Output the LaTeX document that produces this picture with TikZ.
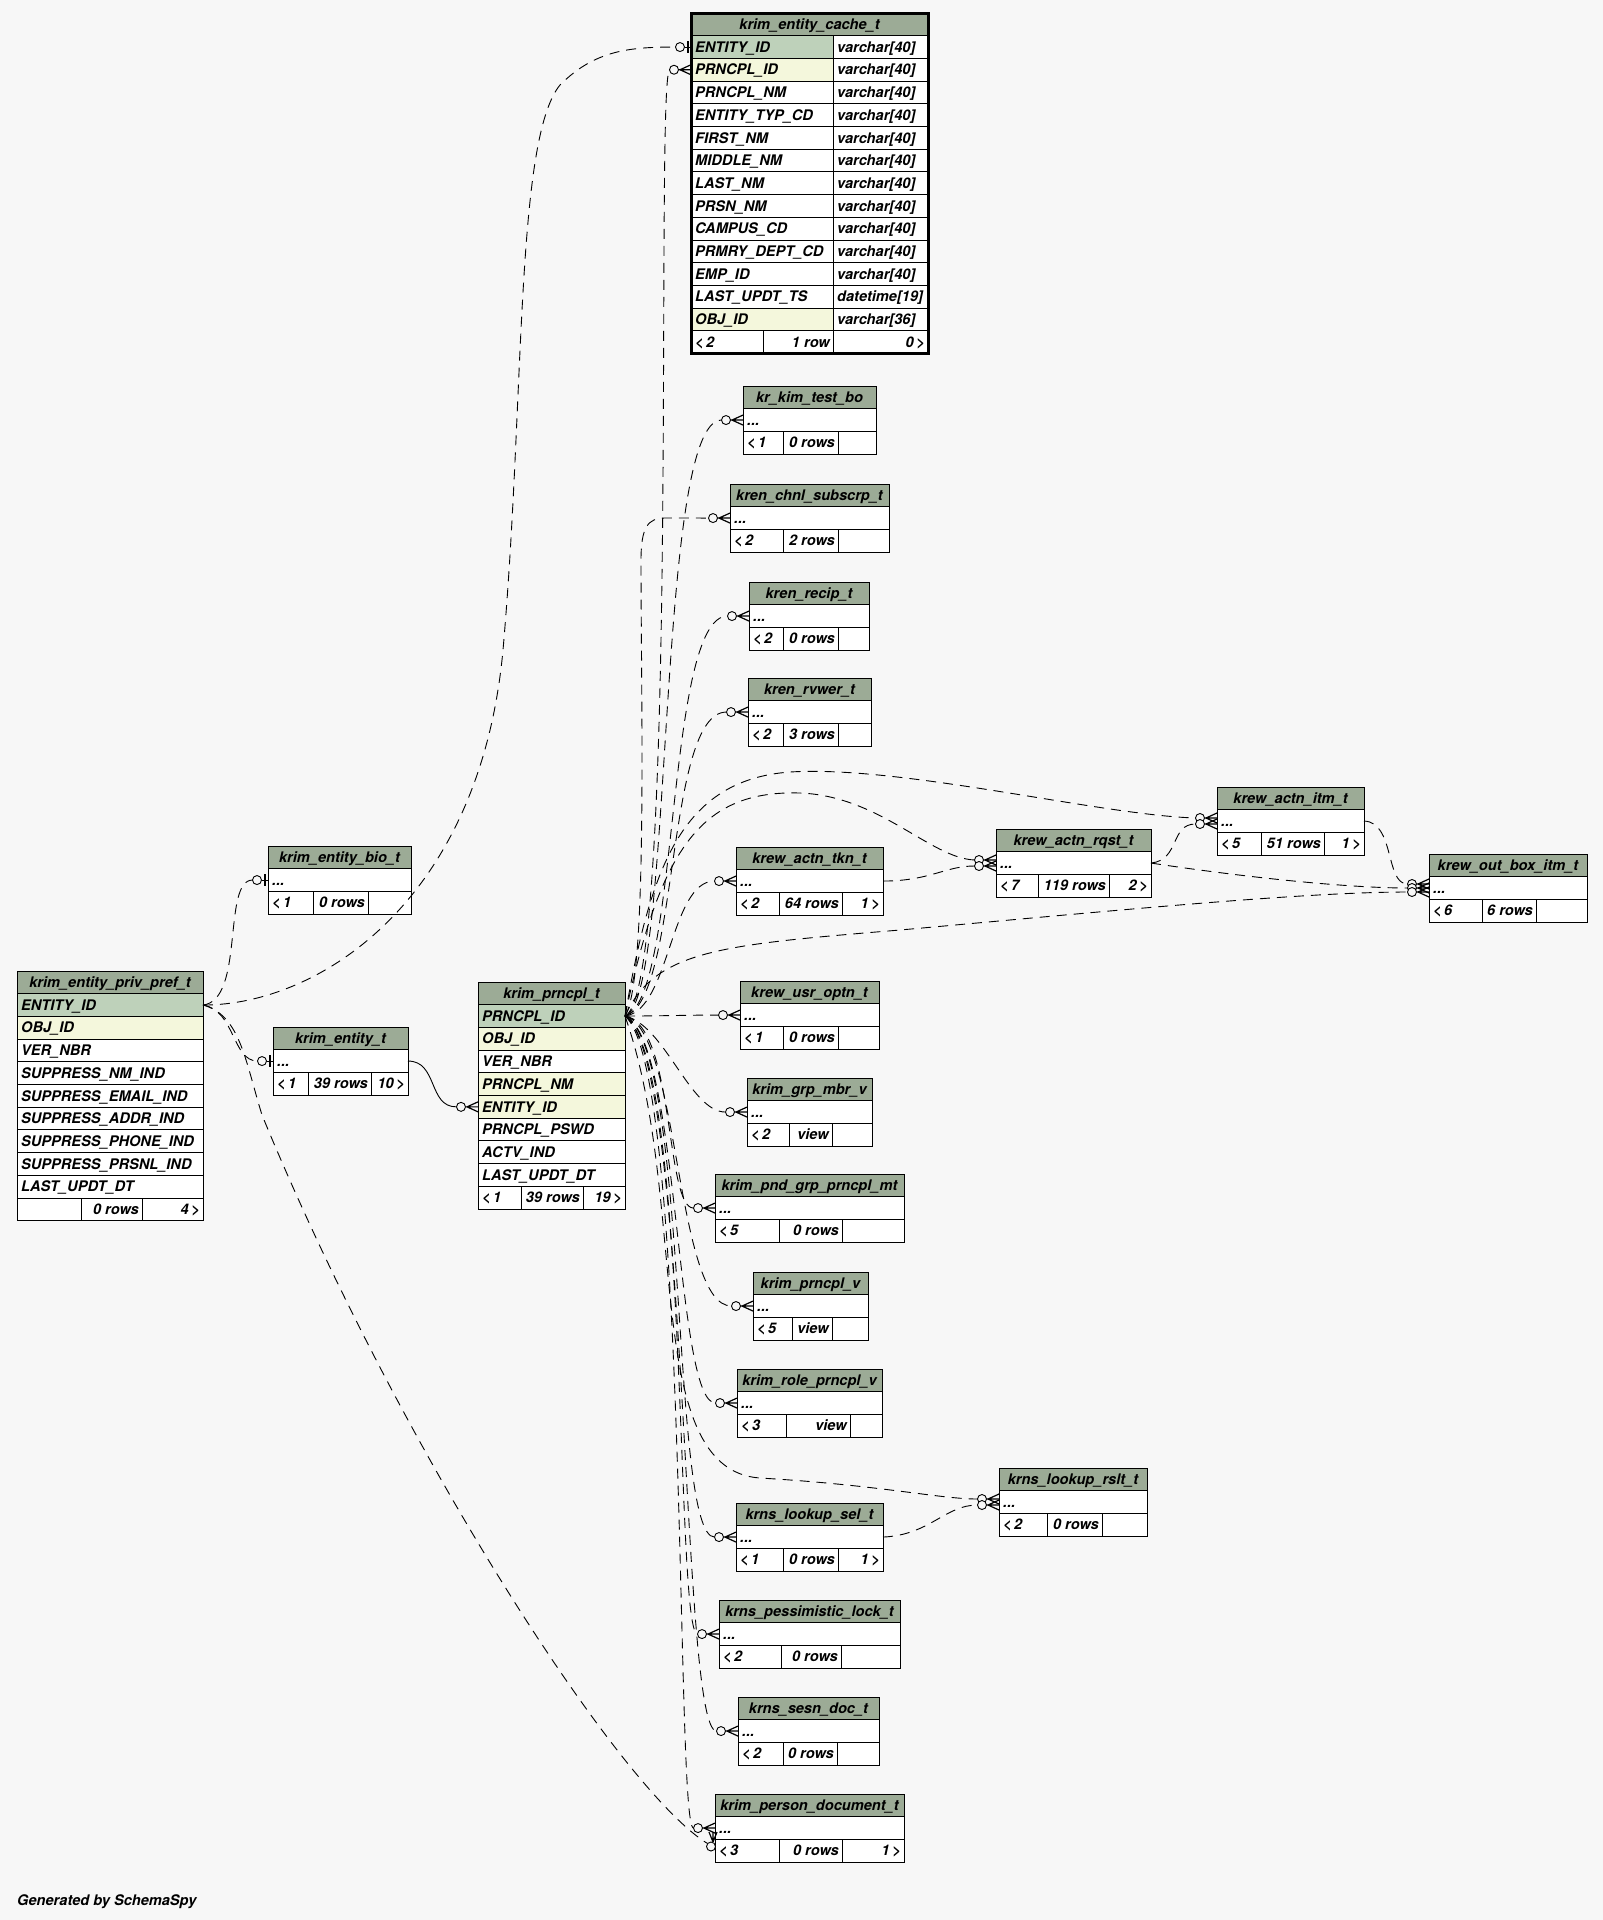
\documentclass[tikz,border=0pt]{standalone}
\usepackage{fontspec}
\setmainfont{TeX Gyre Heros}
\definecolor{hdrc}{HTML}{9CAB96}
\definecolor{pkc}{HTML}{BED1BA}
\definecolor{ixc}{HTML}{F4F7DC}
\definecolor{bgc}{HTML}{F7F7F7}
\tikzset{
 tbl/.style={draw=black, line width=1pt},
 txt/.style={font=\fontsize{14.6}{16}\selectfont\bfseries\itshape, inner sep=0pt},
 rel/.style={draw=black, line width=0.9pt, dash pattern=on 10pt off 7pt},
 solidrel/.style={draw=black, line width=0.9pt},
 crow/.pic={\draw[line width=0.9pt, fill=bgc] (-17,0) circle[radius=4.5pt];
   \draw[line width=1.2pt] (-12.5,0) -- (0,0) (-11,0) -- (0,-5) (-11,0) -- (0,5);},
 teeo/.pic={\draw[line width=0.9pt] (-6.5,0) -- (0,0);
   \draw[line width=0.9pt, fill=bgc] (-11,0) circle[radius=4.5pt];
   \draw[line width=1.8pt] (-3,-6) -- (-3,6);},
}
\def\footparse#1|#2|#3\endfoot{\def\fa{#1}\def\fb{#2}\def\fc{#3}}
\newcommand\smalltbl[8]{%
 \pgfmathsetmacro\tya{#3+22.7}%
 \pgfmathsetmacro\tyb{#3+45.4}%
 \pgfmathsetmacro\tyc{#3+68.1}%
 \fill[hdrc] (#2,#3) rectangle (#4,\tya);
 \fill[white] (#2,\tya) rectangle (#4,\tyc);
 \draw[tbl] (#2,#3) rectangle (#4,\tyc) (#2,\tya) -- (#4,\tya) (#2,\tyb) -- (#4,\tyb) (#5,\tyb) -- (#5,\tyc) (#6,\tyb) -- (#6,\tyc);
 \node[txt, anchor=base] (#1) at ({(#2+#4)/2},{#3+16.5}) {#7};
 \node[txt, anchor=base west] at ({#2+4},{\tya+16.5}) {...};
 \footparse#8\endfoot
 \node[txt, anchor=base west] at ({#2+4},{\tyb+16.5}) {\fa};
 \node[txt, anchor=base east] at ({#6-3},{\tyb+16.5}) {\fb};
 \node[txt, anchor=base east] at ({#4-3},{\tyb+16.5}) {\fc};
 \coordinate (#1-w) at (#2,{#3+34.05});
 \coordinate (#1-e) at (#4,{#3+34.05});
 \coordinate (#1-in) at ({#2-21.5},{#3+34.05});
 \coordinate (#1-tin) at ({#2-15.5},{#3+34.05});
}
\begin{document}
\begin{tikzpicture}[x=1pt,y=-1pt]
\useasboundingbox (0,0) rectangle (1603,1920);
\fill[bgc] (0,0) rectangle (1603,1920);

% ---------- krim_entity_cache_t ----------
\fill[hdrc] (691,13) rectangle (928,35.7);
\node[txt,anchor=base] (cache) at (809.5,29.5) {krim\_entity\_cache\_t};
\foreach \t/\ty/\s [count=\i from 0] in {ENTITY\_ID/varchar[40]/pkc,PRNCPL\_ID/varchar[40]/ixc,PRNCPL\_NM/varchar[40]/white,ENTITY\_TYP\_CD/varchar[40]/white,FIRST\_NM/varchar[40]/white,MIDDLE\_NM/varchar[40]/white,LAST\_NM/varchar[40]/white,PRSN\_NM/varchar[40]/white,CAMPUS\_CD/varchar[40]/white,PRMRY\_DEPT\_CD/varchar[40]/white,EMP\_ID/varchar[40]/white,LAST\_UPDT\_TS/datetime[19]/white,OBJ\_ID/varchar[36]/ixc}{
 \pgfmathsetmacro\ry{35.7+22.7*\i}
 \fill[fill=\s] (691,\ry) rectangle (833,{\ry+22.7});
 \fill[white] (833,\ry) rectangle (928,{\ry+22.7});
 \draw[tbl] (691,\ry) -- (928,\ry) (833,\ry) -- (833,{\ry+22.7});
 \node[txt,anchor=base west] at (695,{\ry+16.5}) {\t};
 \node[txt,anchor=base west] at (837,{\ry+16.5}) {\ty};
}
\fill[white] (691,330.8) rectangle (928,353.5);
\draw[tbl] (691,330.8) -- (928,330.8) (763,330.8) -- (763,353.5) (833,330.8) -- (833,353.5);
\node[txt,anchor=base west] at (695,347.3) {<\,2};
\node[txt,anchor=base east] at (830,347.3) {1 row};
\node[txt,anchor=base east] at (925,347.3) {0\,>};
\draw[draw=black,line width=3pt] (691,13) rectangle (928,353.5);
\coordinate (cacheent-w) at (691,47.05);
\coordinate (cacheent-tin) at (675.5,47.05);
\coordinate (cacheprn-w) at (691,69.75);
\coordinate (cacheprn-in) at (669.5,69.75);

% ---------- krim_entity_priv_pref_t ----------
\fill[hdrc] (17,971) rectangle (203,993.7);
\node[txt,anchor=base] (priv) at (110,987.5) {krim\_entity\_priv\_pref\_t};
\foreach \t/\s [count=\i from 0] in {ENTITY\_ID/pkc,OBJ\_ID/ixc,VER\_NBR/white,SUPPRESS\_NM\_IND/white,SUPPRESS\_EMAIL\_IND/white,SUPPRESS\_ADDR\_IND/white,SUPPRESS\_PHONE\_IND/white,SUPPRESS\_PRSNL\_IND/white,LAST\_UPDT\_DT/white}{
 \pgfmathsetmacro\ry{993.7+22.7*\i}
 \fill[fill=\s] (17,\ry) rectangle (203,{\ry+22.7});
 \draw[tbl] (17,\ry) -- (203,\ry);
 \node[txt,anchor=base west] at (21,{\ry+16.5}) {\t};
}
\fill[white] (17,1198) rectangle (203,1220.7);
\draw[tbl] (17,1198) -- (203,1198) (81,1198) -- (81,1220.7) (142,1198) -- (142,1220.7);
\node[txt,anchor=base east] at (139,1214.5) {0 rows};
\node[txt,anchor=base east] at (200,1214.5) {4\,>};
\draw[tbl] (17,971) rectangle (203,1220.7);
\coordinate (privpk) at (203,1005.05);

% ---------- krim_prncpl_t ----------
\fill[hdrc] (478,982) rectangle (625,1004.7);
\node[txt,anchor=base] (prn) at (551.5,998.5) {krim\_prncpl\_t};
\foreach \t/\s [count=\i from 0] in {PRNCPL\_ID/pkc,OBJ\_ID/ixc,VER\_NBR/white,PRNCPL\_NM/ixc,ENTITY\_ID/ixc,PRNCPL\_PSWD/white,ACTV\_IND/white,LAST\_UPDT\_DT/white}{
 \pgfmathsetmacro\ry{1004.7+22.7*\i}
 \fill[fill=\s] (478,\ry) rectangle (625,{\ry+22.7});
 \draw[tbl] (478,\ry) -- (625,\ry);
 \node[txt,anchor=base west] at (482,{\ry+16.5}) {\t};
}
\fill[white] (478,1186.3) rectangle (625,1209);
\draw[tbl] (478,1186.3) -- (625,1186.3) (521,1186.3) -- (521,1209) (583,1186.3) -- (583,1209);
\node[txt,anchor=base west] at (482,1202.8) {<\,1};
\node[txt,anchor=base east] at (580,1202.8) {39 rows};
\node[txt,anchor=base east] at (622,1202.8) {19\,>};
\draw[tbl] (478,982) rectangle (625,1209);
\coordinate (prnpk) at (625,1016.05);
\coordinate (prnent-w) at (478,1106.85);
\coordinate (prnent-in) at (456.5,1106.85);

% ---------- small tables ----------
\smalltbl{kimtest}{743}{386}{876}{783}{838}{kr\_kim\_test\_bo}{<\,1|0 rows|}
\smalltbl{chnl}{730}{484}{889}{783}{838}{kren\_chnl\_subscrp\_t}{<\,2|2 rows|}
\smalltbl{recip}{749}{582}{869}{783}{838}{kren\_recip\_t}{<\,2|0 rows|}
\smalltbl{rvwer}{748}{678}{871}{783}{838}{kren\_rvwer\_t}{<\,2|3 rows|}
\smalltbl{tkn}{736}{847}{883}{779}{842}{krew\_actn\_tkn\_t}{<\,2|64 rows|1\,>}
\smalltbl{rqst}{996}{829}{1151}{1038}{1109}{krew\_actn\_rqst\_t}{<\,7|119 rows|2\,>}
\smalltbl{itm}{1217}{787}{1364}{1261}{1324}{krew\_actn\_itm\_t}{<\,5|51 rows|1\,>}
\smalltbl{outbox}{1429}{854}{1587}{1482}{1536}{krew\_out\_box\_itm\_t}{<\,6|6 rows|}
\smalltbl{usropt}{740}{981}{879}{783}{838}{krew\_usr\_optn\_t}{<\,1|0 rows|}
\smalltbl{grpmbr}{747}{1078}{872}{789}{832}{krim\_grp\_mbr\_v}{<\,2|view|}
\smalltbl{pndgrp}{715}{1174}{904}{779}{842}{krim\_pnd\_grp\_prncpl\_mt}{<\,5|0 rows|}
\smalltbl{prnv}{753}{1272}{868}{792}{832}{krim\_prncpl\_v}{<\,5|view|}
\smalltbl{rolev}{737}{1369}{882}{786}{850}{krim\_role\_prncpl\_v}{<\,3|view|}
\smalltbl{lkrslt}{999}{1468}{1147}{1047}{1102}{krns\_lookup\_rslt\_t}{<\,2|0 rows|}
\smalltbl{lksel}{736}{1503}{883}{783}{838}{krns\_lookup\_sel\_t}{<\,1|0 rows|1\,>}
\smalltbl{pesslock}{719}{1600}{900}{781}{841}{krns\_pessimistic\_lock\_t}{<\,2|0 rows|}
\smalltbl{sesndoc}{738}{1697}{879}{783}{837}{krns\_sesn\_doc\_t}{<\,2|0 rows|}
\smalltbl{persdoc}{715}{1794}{904}{779}{842}{krim\_person\_document\_t}{<\,3|0 rows|1\,>}
\smalltbl{bio}{268}{846}{411}{313}{368}{krim\_entity\_bio\_t}{<\,1|0 rows|}
\smalltbl{ent}{273}{1027}{408}{308}{371}{krim\_entity\_t}{<\,1|39 rows|10\,>}

% extra end coordinates for multiple arrivals
\coordinate (rqst-in1) at (974.5,860);
\coordinate (rqst-in2) at (974.5,866);
\coordinate (itm-in1) at (1195.5,818);
\coordinate (itm-in2) at (1195.5,824);
\coordinate (outbox-in1) at (1407.5,884);
\coordinate (outbox-in2) at (1407.5,888);
\coordinate (outbox-in3) at (1407.5,892);
\coordinate (lkrslt-in1) at (977.5,1499);
\coordinate (lkrslt-in2) at (977.5,1505);
\coordinate (persdoc-in2) at (707.5,1843.5);

% ---------- connectors ----------
\draw[rel] (privpk) .. controls (320,1005) and (480,900) .. (503,650) .. controls (525,400) and (515,140) .. (560,85) .. controls (595,50) and (630,47) .. (cacheent-tin);
\pic at (cacheent-w) {teeo};
\draw[rel] (prnpk) .. controls (680,990) and (655,85) .. (cacheprn-in);
\pic at (cacheprn-w) {crow};

\draw[rel] (privpk) .. controls (245,1000) and (222,880) .. (bio-tin);
\pic at (bio-w) {teeo};
\draw[rel] (privpk) .. controls (235,1010) and (232,1061) .. (ent-tin);
\pic at (ent-w) {teeo};
\draw[solidrel] (ent-e) .. controls (438,1061) and (428,1107) .. (prnent-in);
\pic at (prnent-w) {crow};

\draw[rel] (privpk) .. controls (240,1015) and (245,1060) .. (262,1115) .. controls (400,1450) and (620,1790) .. (persdoc-in2);
\draw[line width=0.9pt, fill=bgc] (711,1846.5) circle[radius=4.5pt];
\draw[line width=1.2pt] (713,1842) -- (709,1832) (713,1842) -- (713,1832) (713,1842) -- (717,1832);

\draw[rel] (prnpk) .. controls (675,1000) and (655,420) .. (kimtest-in);
\draw[rel] (prnpk) .. controls (648,980) and (641,700) .. (641,560) .. controls (641,527) and (648,518) .. (665,518) -- (chnl-in);
\draw[rel] (prnpk) .. controls (680,1000) and (665,616) .. (recip-in);
\draw[rel] (prnpk) .. controls (680,1000) and (665,712) .. (rvwer-in);
\draw[rel] (prnpk) .. controls (670,1010) and (670,881) .. (tkn-in);
\draw[rel] (prnpk) .. controls (660,1016) and (690,1015) .. (usropt-in);
\draw[rel] (prnpk) .. controls (665,1025) and (690,1112) .. (grpmbr-in);
\draw[rel] (prnpk) .. controls (675,1025) and (665,1208) .. (pndgrp-in);
\draw[rel] (prnpk) .. controls (680,1030) and (675,1306) .. (prnv-in);
\draw[rel] (prnpk) .. controls (680,1040) and (675,1403) .. (rolev-in);
\draw[rel] (prnpk) .. controls (690,1050) and (670,1537) .. (lksel-in);
\draw[rel] (prnpk) .. controls (690,1060) and (675,1634) .. (pesslock-in);
\draw[rel] (prnpk) .. controls (690,1060) and (680,1731) .. (sesndoc-in);
\draw[rel] (prnpk) .. controls (690,1070) and (675,1828) .. (persdoc-in);
\foreach \n in {kimtest,chnl,recip,rvwer,tkn,usropt,grpmbr,pndgrp,prnv,rolev,lksel,pesslock,sesndoc,persdoc}{\pic at (\n-w) {crow};}

\draw[rel] (prnpk) .. controls (660,850) and (700,790) .. (800,793) .. controls (880,796) and (930,858) .. (rqst-in1);
\draw[rel] (tkn-e) .. controls (930,881) and (945,866) .. (rqst-in2);
\pic at (996,860) {crow};
\pic at (996,866) {crow};
\draw[rel] (prnpk) .. controls (650,870) and (680,780) .. (790,772) .. controls (900,765) and (1100,815) .. (itm-in1);
\draw[rel] (rqst-e) .. controls (1180,860) and (1170,824) .. (itm-in2);
\pic at (1217,818) {crow};
\pic at (1217,824) {crow};
\draw[rel] (itm-e) .. controls (1395,822) and (1385,884) .. (outbox-in1);
\draw[rel] (rqst-e) .. controls (1250,878) and (1350,888) .. (outbox-in2);
\draw[rel] (prnpk) .. controls (655,950) and (720,945) .. (900,930) .. controls (1100,912) and (1300,892) .. (outbox-in3);
\pic at (1429,884) {crow};
\pic at (1429,888) {crow};
\pic at (1429,892) {crow};

\draw[rel] (prnpk) .. controls (690,1200) and (640,1470) .. (760,1478) .. controls (880,1485) and (940,1499) .. (lkrslt-in1);
\draw[rel] (lksel-e) .. controls (930,1535) and (945,1505) .. (lkrslt-in2);
\pic at (999,1499) {crow};
\pic at (999,1505) {crow};

\node[txt,anchor=base west] (gen) at (17,1905) {Generated by SchemaSpy};
\end{tikzpicture}
\end{document}
